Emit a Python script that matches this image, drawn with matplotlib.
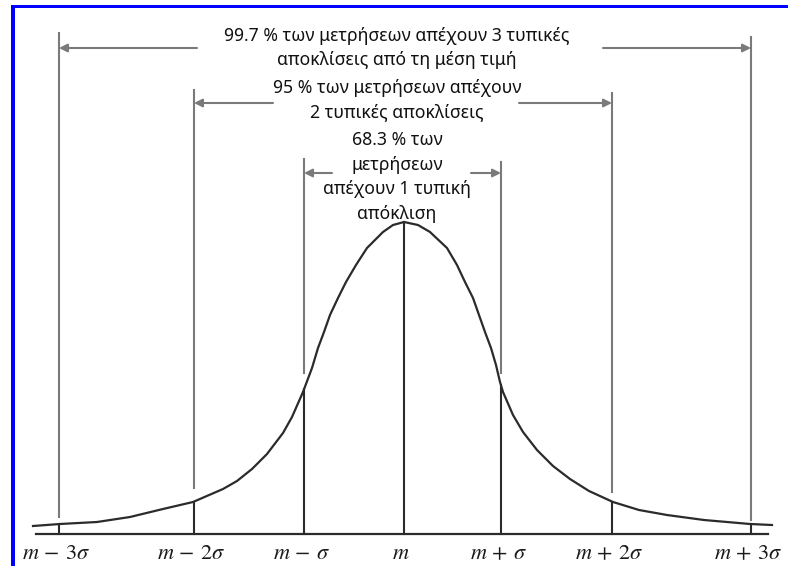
import matplotlib.pyplot as plt
import numpy as np

# καμπύλη (διαβασμένη από την εικόνα): θέση από το μέσο, ύψος πάνω από τον άξονα
curve_x = [-371, -344, -307, -274, -241, -211, -181, -167, -152, -137, -121, -112, -101,
           -92, -86, -80, -74, -66, -58, -48, -37, -21, -11, 0,
           14, 26, 43, 53, 61, 69, 75, 81, 87, 92, 96, 99, 109, 119, 133, 149, 166,
           185, 209, 235, 263, 300, 346, 368]
curve_h = [8, 10, 12, 17, 25, 32, 45, 53, 65, 80, 101, 117, 142,
           166, 186, 202, 219, 236, 252, 269, 286, 302, 309, 312,
           309, 302, 286, 269, 252, 236, 219, 202, 186, 169, 152, 142, 119, 102, 84, 68, 55,
           43, 32, 24, 19, 14, 10, 9]

sigma_labels = [r'$m\,-\,3\sigma$', r'$m\,-\,2\sigma$', r'$m\,-\,\sigma$', r'$m$',
                r'$m\,+\,\sigma$', r'$m\,+\,2\sigma$', r'$m\,+\,3\sigma$']
sigma_pos = [-345, -210, -100, 0, 97, 208, 347]
guide_top = [501, 444, 375, None, 372, 441, 497]
guide_bottom = [17, 46, 161, None, 161, 42, 14]

# βέλη: ύψος, αρχή αριστερά / δεξιά (τα άκρα είναι οι γραμμές ±kσ)
arrow_h = [486, 431, 361]
arrow_start_left = [-207, -131, -72]
arrow_start_right = [199, 115, 67]

texts = ['99.7 % των μετρήσεων απέχουν 3 τυπικές\nαποκλίσεις από τη μέση τιμή',
         '95 % των μετρήσεων απέχουν\n2 τυπικές αποκλίσεις',
         '68.3 % των\nμετρήσεων\nαπέχουν 1 τυπική\nαπόκλιση']
text_h = [486, 434, 357]

dark = '#2b2b2b'
gray = '#7a7a7a'

plt.rcParams['mathtext.fontset'] = 'stix'
fig = plt.figure(figsize=(7.88, 5.66), dpi=100)
ax = fig.add_axes([0, 0, 1, 1])
ax.set_xlim(-404, 384)
ax.set_ylim(-32, 534)
ax.axis('off')

# καμπύλη και άξονας
ax.plot(curve_x, curve_h, color=dark, lw=1.6, solid_joinstyle='round')
ax.plot([-368, 364], [0, 0], color=dark, lw=1.6)

# κατακόρυφες γραμμές
for i, x in enumerate(sigma_pos):
    h = np.interp(x, curve_x, curve_h)
    ax.plot([x, x], [0, h], color=dark, lw=1.5)
    if guide_top[i] is not None:
        ax.plot([x, x], [guide_bottom[i], guide_top[i]], color=gray, lw=1.5)
    ax.text(x - 3, -19, sigma_labels[i], ha='center', va='center', fontsize=16, color='#1a1a1a')

# βέλη
for k in range(3):
    for x0, x1 in [(arrow_start_left[k], sigma_pos[k]),
                   (arrow_start_right[k], sigma_pos[6 - k])]:
        ax.annotate('', xy=(x1, arrow_h[k]), xytext=(x0, arrow_h[k]),
                    arrowprops=dict(arrowstyle='-|>', color=gray, lw=1.5,
                                    mutation_scale=12, shrinkA=0, shrinkB=0))

for t, h in zip(texts, text_h):
    ax.text(-7, h, t, ha='center', va='center', fontsize=12.7, family='Noto Sans',
            color='#111111', linespacing=1.48)

# μπλε περίγραμμα (πάνω και αριστερά)
fig.add_artist(plt.Rectangle((11 / 788, 0), 4 / 788, 561 / 566, transform=fig.transFigure,
                             color='#0000ff', lw=0))
fig.add_artist(plt.Rectangle((11 / 788, 558 / 566), 777 / 788, 3 / 566, transform=fig.transFigure,
                             color='#0000ff', lw=0))

plt.savefig('out.png', dpi=100)
